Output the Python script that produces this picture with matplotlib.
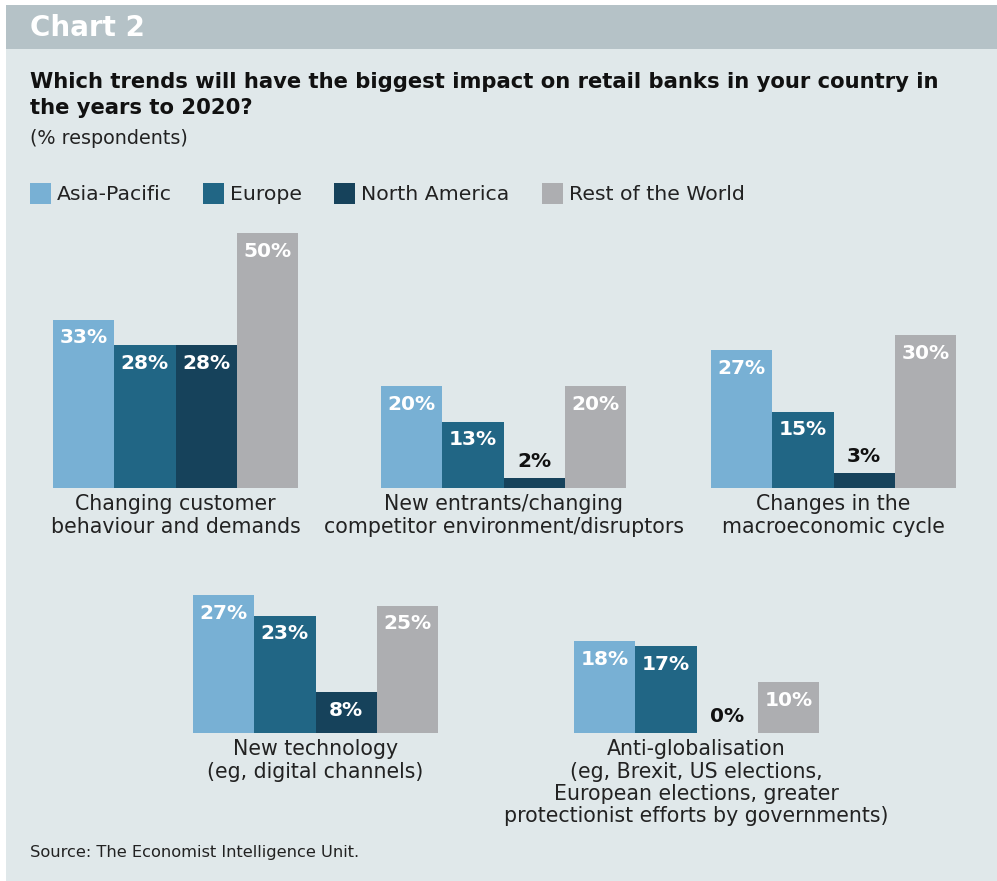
import matplotlib
matplotlib.use("Agg")
from matplotlib import pyplot as plt
from matplotlib.patches import Rectangle

W, H = 997, 881

regions = ["Asia-Pacific", "Europe", "North America", "Rest of the World"]
colors = ["#78b0d4", "#216685", "#16425b", "#adaeb1"]

trends = [
    "Changing customer\nbehaviour and demands",
    "New entrants/changing\ncompetitor environment/disruptors",
    "Changes in the\nmacroeconomic cycle",
    "New technology\n(eg, digital channels)",
    "Anti-globalisation\n(eg, Brexit, US elections,\nEuropean elections, greater\nprotectionist efforts by governments)",
]
asia_pacific = [33, 20, 27, 27, 18]
europe = [28, 13, 15, 23, 17]
north_america = [28, 2, 3, 8, 0]
rest_of_world = [50, 20, 30, 25, 10]

# panel placement in pixels: (left, baseline)
panels = [(53, 488), (381, 488), (711, 488), (193, 733), (574, 733)]

plt.rcParams["font.family"] = ["DejaVu Sans"]

fig = plt.figure(figsize=(W / 100, H / 100), dpi=100)
fig.patch.set_facecolor("white")


def fx(px):
    return px / W


def fy(py):
    return 1 - py / H


# background panel and header band
fig.add_artist(Rectangle((fx(6), 0), 1 - fx(6), fy(49), transform=fig.transFigure,
                         facecolor="#e0e8ea", edgecolor="none", zorder=0))
fig.add_artist(Rectangle((fx(6), fy(49)), 1 - fx(6), fy(5) - fy(49), transform=fig.transFigure,
                         facecolor="#b5c2c7", edgecolor="none", zorder=0))

fig.text(fx(30), fy(28), "Chart 2", color="white", fontsize=20, fontweight="bold", va="center")
fig.text(fx(30), fy(95), "Which trends will have the biggest impact on retail banks in your country in\nthe years to 2020?",
         color="#111111", fontsize=15.2, fontweight="bold", va="center", linespacing=1.4)
fig.text(fx(30), fy(139), "(% respondents)", color="#222222", fontsize=13.8, va="center")
fig.text(fx(30), fy(852), "Source: The Economist Intelligence Unit.", color="#222222", fontsize=11.7, va="center")

# legend
legend_x = [30, 203, 334, 542]
for x, name, c in zip(legend_x, regions, colors):
    fig.add_artist(Rectangle((fx(x), fy(204)), fx(21), fy(183) - fy(204), transform=fig.transFigure,
                             facecolor=c, edgecolor="none"))
    fig.text(fx(x + 27), fy(194), name, color="#222222", fontsize=14.7, va="center")

series = [asia_pacific, europe, north_america, rest_of_world]
bar_w_px = 61.25
ymax = 50
ax_h_px = 255

for i, (left, base) in enumerate(panels):
    ax = fig.add_axes([fx(left), fy(base), fx(4 * bar_w_px), ax_h_px / H])
    ax.set_xlim(-0.5, 3.5)
    ax.set_ylim(0, ymax)
    ax.axis("off")
    vals = [s[i] for s in series]
    ax.bar(range(4), vals, width=1.0, color=colors)
    for j, v in enumerate(vals):
        if v >= 5:
            ax.annotate(f"{v}%", (j, v), xytext=(0, -13), textcoords="offset points",
                        ha="center", va="center", color="white", fontsize=14.5, fontweight="bold")
        else:
            ax.annotate(f"{v}%", (j, v), xytext=(0, 12), textcoords="offset points",
                        ha="center", va="center", color="#111111", fontsize=14.5, fontweight="bold")
    ax.text(1.5, -1.2, trends[i], ha="center", va="top",
            fontsize=14.8, color="#222222", linespacing=1.15)

fig.savefig("out.png", dpi=100, facecolor=fig.get_facecolor())
